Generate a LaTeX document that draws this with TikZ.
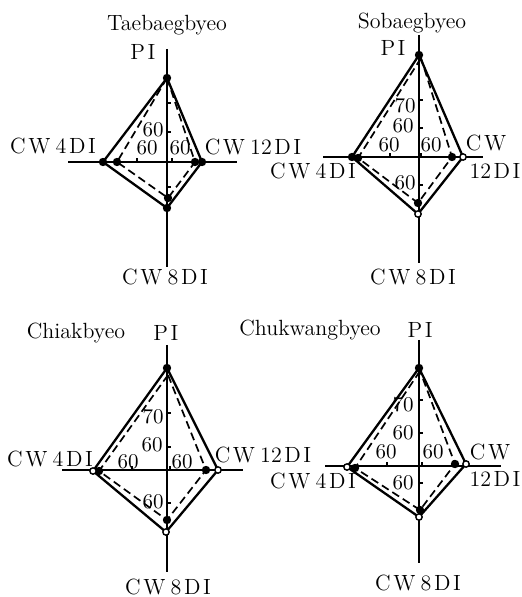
\documentclass[tikz,border=0pt]{standalone}
\usepackage{fontspec}
\usepackage{tikz}
\usetikzlibrary{positioning}
\newcommand{\sk}{\kern1.3pt}

\begin{document}
\begin{tikzpicture}[x=0.5pt,y=-0.5pt,
  axis/.style={line width=0.7pt},
  outer/.style={line width=1.15pt,line join=round},
  inner/.style={line width=0.85pt,dash pattern=on 4pt off 2.2pt},
  hollow/.style={draw,fill=white,line width=0.7pt},
  vname/.style={font=\fontsize{11}{13}\selectfont,inner sep=0pt},
  axlbl/.style={font=\fontsize{11}{13}\selectfont,inner sep=0pt},
  num/.style={font=\fontsize{10.5}{12}\selectfont,inner sep=0pt}]
\useasboundingbox (0,0) rectangle (521,597);

% Taebaegbyeo
\begin{scope}[shift={(167,162)}]
  \coordinate (t-n) at (0,-113); \coordinate (t-s) at (0,105);
  \coordinate (t-w) at (-99,0);  \coordinate (t-e) at (70,0);
  \draw[axis] (t-n) -- (t-s) (t-w) -- (t-e);
  \foreach \y in {-59,-30,25} \draw[axis] (0,\y) -- ++(4,0);
  \foreach \x in {-30,5} \draw[axis] (\x,0) -- ++(0,-4);
  \coordinate (t-a1) at (0,-84); \coordinate (t-a2) at (-64,0);
  \coordinate (t-a3) at (0,46);  \coordinate (t-a4) at (35,0);
  \coordinate (t-b1) at (0,-84); \coordinate (t-b2) at (-50,0);
  \coordinate (t-b3) at (1,36);  \coordinate (t-b4) at (28,0);
  \draw[outer] (t-a1) -- (t-a2) -- (t-a3) -- (t-a4) -- cycle;
  \draw[inner] (t-b1) -- (t-b2) -- (t-b3) -- (t-b4) -- cycle;
  \foreach \p in {a1,a2,a3,a4,b2,b3,b4} \fill (t-\p) circle (4.2);
  \node[vname] (t-name) at (0,-137) {Taebaegbyeo};
  \node[axlbl] (t-pi) at (-24,-110) {P\sk I};
  \node[num] (t-v60) at (-14,-32) {60};
  \node[num] (t-l60) at (-20,-14) {60};
  \node[num] (t-r60) at (13,-14) {60};
  \node[axlbl] (t-cw4) at (-114,-16) {C\sk W\sk\sk 4\sk D\sk I};
  \node[axlbl] (t-cw12) at (86,-15) {C\sk W\sk\sk 12\sk D\sk I};
  \node[axlbl] (t-cw8) at (-2,115) {C\sk W\sk\sk 8\sk D\sk I};
\end{scope}

% Sobaegbyeo
\begin{scope}[shift={(419,157)}]
  \coordinate (s-n) at (0,-122); \coordinate (s-s) at (0,106);
  \coordinate (s-w) at (-96,0);  \coordinate (s-e) at (64,0);
  \draw[axis] (s-n) -- (s-s) (s-w) -- (s-e);
  \foreach \y in {-57,-29,28} \draw[axis] (0,\y) -- ++(4,0);
  \foreach \x in {-29,2} \draw[axis] (\x,0) -- ++(0,-4);
  \coordinate (s-a1) at (0,-102); \coordinate (s-a2) at (-67,0);
  \coordinate (s-a3) at (-1,57);  \coordinate (s-a4) at (44,0);
  \coordinate (s-b1) at (2,-99);  \coordinate (s-b2) at (-61,1);
  \coordinate (s-b3) at (-1,46);  \coordinate (s-b4) at (33,0);
  \draw[outer] (s-a1) -- (s-a2) -- (s-a3) -- (s-a4) -- cycle;
  \draw[inner] (s-b1) -- (s-b2) -- (s-b3) -- (s-b4) -- cycle;
  \foreach \p in {a1,a2,b2,b3,b4} \fill (s-\p) circle (4.2);
  \foreach \p in {a3,a4} \draw[hollow] (s-\p) circle (3.2);
  \node[vname] (s-name) at (-7,-134) {Sobaegbyeo};
  \node[axlbl] (s-pi) at (-26,-109) {P\sk I};
  \node[num] (s-v70) at (-14,-51) {70};
  \node[num] (s-v60) at (-16,-31) {60};
  \node[num] (s-l60) at (-30,-12) {60};
  \node[num] (s-r60) at (12,-12) {60};
  \node[num] (s-b60) at (-14,26) {60};
  \node[axlbl] (s-cw) at (67,-14) {C\sk W};
  \node[axlbl] (s-12) at (76,14) {12\sk D\sk I};
  \node[axlbl] (s-cw4) at (-106,14) {C\sk W\sk\sk 4\sk D\sk I};
  \node[axlbl] (s-cw8) at (-6,120) {C\sk W\sk\sk 8\sk D\sk I};
\end{scope}

% Chiakbyeo
\begin{scope}[shift={(167,470)}]
  \coordinate (c-n) at (0,-125); \coordinate (c-s) at (0,102);
  \coordinate (c-w) at (-105,0); \coordinate (c-e) at (76,0);
  \draw[axis] (c-n) -- (c-s) (c-w) -- (c-e);
  \foreach \y in {-57,-23,33} \draw[axis] (0,\y) -- ++(4,0);
  \foreach \x in {-35,3} \draw[axis] (\x,0) -- ++(0,-4);
  \coordinate (c-a1) at (0,-102); \coordinate (c-a2) at (-74,1);
  \coordinate (c-a3) at (-1,62);  \coordinate (c-a4) at (51,0);
  \coordinate (c-b1) at (1,-95);  \coordinate (c-b2) at (-68,1);
  \coordinate (c-b3) at (0,50);   \coordinate (c-b4) at (39,0);
  \draw[outer] (c-a1) -- (c-a2) -- (c-a3) -- (c-a4) -- cycle;
  \draw[inner] (c-b1) -- (c-b2) -- (c-b3) -- (c-b4) -- cycle;
  \foreach \p in {a1,b2,b3,b4} \fill (c-\p) circle (4.2);
  \foreach \p in {a2,a3,a4} \draw[hollow] (c-\p) circle (3.2);
  \node[vname] (c-name) at (-91,-137) {Chiakbyeo};
  \node[axlbl] (c-pi) at (-1,-137) {P\sk I};
  \node[num] (c-v70) at (-14,-53) {70};
  \node[num] (c-v60) at (-15,-25) {60};
  \node[num] (c-l60) at (-39,-8) {60};
  \node[num] (c-r60) at (15,-8) {60};
  \node[num] (c-b60) at (-14,32) {60};
  \node[axlbl] (c-cw4) at (-117,-11) {C\sk W\sk\sk 4\sk D\sk I};
  \node[axlbl] (c-cw12) at (96,-15) {C\sk W\sk\sk 12\sk D\sk I};
  \node[axlbl] (c-cw8) at (1,117) {C\sk W\sk\sk 8\sk D\sk I};
\end{scope}

% Chukwangbyeo
\begin{scope}[shift={(419,466)}]
  \coordinate (k-n) at (0,-126); \coordinate (k-s) at (0,97);
  \coordinate (k-w) at (-94,0);  \coordinate (k-e) at (82,0);
  \draw[axis] (k-n) -- (k-s) (k-w) -- (k-e);
  \foreach \y in {-66,-33,17} \draw[axis] (0,\y) -- ++(4,0);
  \foreach \x in {-32,3} \draw[axis] (\x,0) -- ++(0,-4);
  \coordinate (k-a1) at (0,-98);  \coordinate (k-a2) at (-72,1);
  \coordinate (k-a3) at (0,51);   \coordinate (k-a4) at (47,-2);
  \coordinate (k-b1) at (1,-95);  \coordinate (k-b2) at (-64,2);
  \coordinate (k-b3) at (1,44);   \coordinate (k-b4) at (36,-2);
  \draw[outer] (k-a1) -- (k-a2) -- (k-a3) -- (k-a4) -- cycle;
  \draw[inner] (k-b1) -- (k-b2) -- (k-b3) -- (k-b4) -- cycle;
  \foreach \p in {a1,b2,b3,b4} \fill (k-\p) circle (4.2);
  \foreach \p in {a2,a3,a4} \draw[hollow] (k-\p) circle (3.2);
  \node[vname] (k-name) at (-109,-136) {Chukwangbyeo};
  \node[axlbl] (k-pi) at (1,-136) {P\sk I};
  \node[num] (k-v70) at (-16,-61) {70};
  \node[num] (k-v60) at (-16,-33) {60};
  \node[num] (k-l60) at (-33,-14) {60};
  \node[num] (k-r60) at (14,-14) {60};
  \node[num] (k-b60) at (-16,17) {60};
  \node[axlbl] (k-cw) at (71,-14) {C\sk W};
  \node[axlbl] (k-12) at (76,13) {12\sk D\sk I};
  \node[axlbl] (k-cw4) at (-106,15) {C\sk W\sk\sk 4\sk D\sk I};
  \node[axlbl] (k-cw8) at (-1,117) {C\sk W\sk\sk 8\sk D\sk I};
\end{scope}
\end{tikzpicture}
\end{document}
